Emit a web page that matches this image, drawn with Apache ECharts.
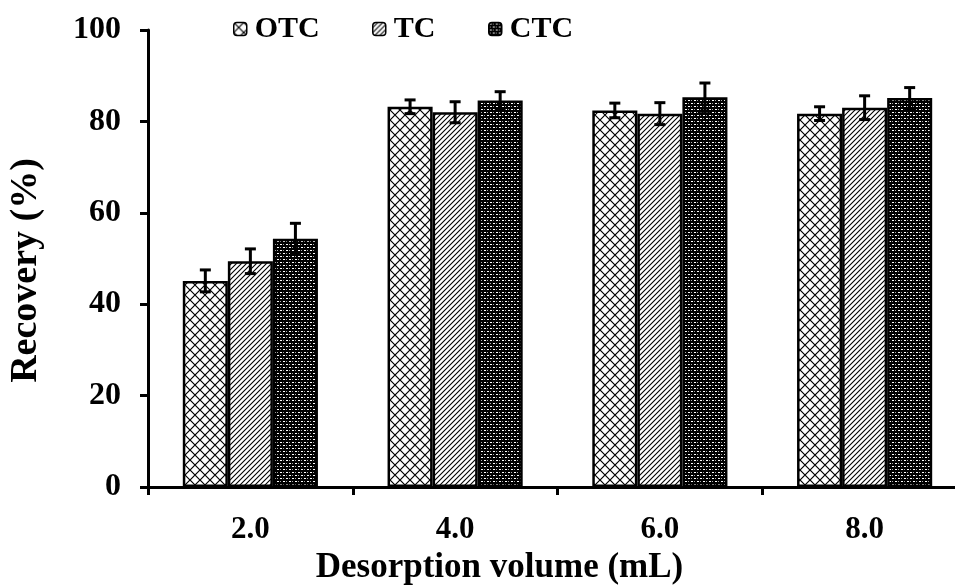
<!DOCTYPE html>
<html><head><meta charset="utf-8">
<script src="https://cdn.jsdelivr.net/npm/echarts@6/dist/echarts.min.js"></script>
<style>html,body{margin:0;padding:0;background:#fff}#c{width:955px;height:587px}</style>
</head><body><div id="c"></div>
<script>
const categories = ['2.0', '4.0', '6.0', '8.0'];
const seriesNames = ['OTC', 'TC', 'CTC'];
const otcValues = [45.1, 83.2, 82.4, 81.7];
const otcErrors = [2.4, 1.5, 1.6, 1.5];
const tcValues = [49.4, 82.0, 81.7, 83.0];
const tcErrors = [2.7, 2.3, 2.4, 2.6];
const ctcValues = [54.3, 84.6, 85.3, 85.1];
const ctcErrors = [3.4, 1.9, 3.1, 2.3];
const yTicks = [0, 20, 40, 60, 80, 100];

function makePattern(kind) {
  const c = document.createElement('canvas');
  const ctx = c.getContext('2d');
  if (kind === 'cross') {
    c.width = 10; c.height = 10;
    ctx.fillStyle = '#fff'; ctx.fillRect(0, 0, 10, 10);
    ctx.strokeStyle = '#000'; ctx.lineWidth = 1.2;
    ctx.beginPath(); ctx.moveTo(0, 0); ctx.lineTo(10, 10); ctx.moveTo(10, 0); ctx.lineTo(0, 10); ctx.stroke();
  } else if (kind === 'diag') {
    c.width = 5; c.height = 5;
    ctx.fillStyle = '#fff'; ctx.fillRect(0, 0, 5, 5);
    ctx.strokeStyle = '#000'; ctx.lineWidth = 1.1;
    ctx.beginPath();
    ctx.moveTo(-1, 6); ctx.lineTo(6, -1);
    ctx.moveTo(-3, 3); ctx.lineTo(3, -3);
    ctx.moveTo(2, 8); ctx.lineTo(8, 2);
    ctx.stroke();
  } else {
    c.width = 6; c.height = 6;
    ctx.fillStyle = '#000'; ctx.fillRect(0, 0, 6, 6);
    ctx.fillStyle = '#fff';
    ctx.fillRect(1, 1, 2, 1); ctx.fillRect(4, 4, 2, 1);
    ctx.fillStyle = '#aaa';
    ctx.fillRect(1, 4, 1, 1); ctx.fillRect(4, 1, 1, 1);
  }
  return { image: c, repeat: 'repeat' };
}
const patterns = [makePattern('cross'), makePattern('diag'), makePattern('dots')];
const values = [otcValues, tcValues, ctcValues];
const errors = [otcErrors, tcErrors, ctcErrors];
const GAP = 0.34;
const font = '"Liberation Serif", "Times New Roman", serif';
const legendLefts = [228, 367, 483];

const series = [];
seriesNames.forEach((name, i) => {
  series.push({
    name: name, type: 'bar', data: values[i],
    barGap: '0%', barCategoryGap: (GAP * 100) + '%',
    itemStyle: { color: patterns[i], borderColor: '#000', borderWidth: 2.5 },
    emphasis: { disabled: true }, z: 2
  });
});
seriesNames.forEach((name, i) => {
  series.push({
    type: 'custom', name: name + '_err', z: 5, silent: true,
    data: values[i].map((v, k) => [k, v, errors[i][k]]),
    encode: { x: 0, y: 1 },
    renderItem: function (params, api) {
      const cat = api.value(0), v = api.value(1), e = api.value(2);
      const band = api.size([1, 0])[0];
      const bw = band * (1 - GAP) / 3;
      const top = api.coord([cat, v + e]);
      const bot = api.coord([cat, v - e]);
      const x = top[0] + (i - 1) * bw;
      const cw = 5.5;
      const st = { stroke: '#000', lineWidth: 3 };
      return { type: 'group', children: [
        { type: 'line', shape: { x1: x, y1: top[1], x2: x, y2: bot[1] }, style: st },
        { type: 'line', shape: { x1: x - cw, y1: top[1], x2: x + cw, y2: top[1] }, style: st },
        { type: 'line', shape: { x1: x - cw, y1: bot[1], x2: x + cw, y2: bot[1] }, style: st }
      ]};
    }
  });
});

const legends = seriesNames.map((name, i) => ({
  data: [name], top: 9, left: legendLefts[i],
  itemWidth: 13, itemHeight: 13, selectedMode: false,
  textStyle: { fontFamily: font, fontWeight: 'bold', fontSize: 30, color: '#000', padding: [0, 0, 0, 3] },
  itemStyle: { borderColor: '#000', borderWidth: 1.5 }
}));

const chart = echarts.init(document.getElementById('c'));
chart.setOption({
  backgroundColor: '#fff',
  animation: false,
  textStyle: { fontFamily: font },
  grid: { left: 148, top: 30, width: 819, height: 457, containLabel: false, outerBoundsMode: 'none' },
  legend: legends,
  xAxis: {
    type: 'category', data: categories,
    name: 'Desorption volume (mL)', nameLocation: 'middle', nameGap: 63,
    nameTextStyle: { fontFamily: font, fontWeight: 'bold', fontSize: 35, color: '#000', padding: [0, 116, 0, 0] },
    axisLine: { lineStyle: { color: '#000', width: 3 } },
    axisTick: { show: true, length: 8, lineStyle: { color: '#000', width: 3 } },
    axisLabel: { fontFamily: font, fontWeight: 'bold', fontSize: 31, color: '#000', margin: 27 }
  },
  yAxis: {
    type: 'value', min: yTicks[0], max: yTicks[yTicks.length - 1], interval: 20,
    name: 'Recovery (%)', nameLocation: 'middle', nameGap: 103, nameRotate: 90,
    nameTextStyle: { fontFamily: font, fontWeight: 'bold', fontSize: 38, color: '#000', padding: [0, 24, 0, 0] },
    axisLine: { show: true, lineStyle: { color: '#000', width: 3 } },
    axisTick: { show: true, length: 8, lineStyle: { color: '#000', width: 3 } },
    splitLine: { show: false },
    axisLabel: { fontFamily: font, fontWeight: 'bold', fontSize: 32, color: '#000', margin: 27 }
  },
  series: series
});
</script></body></html>
